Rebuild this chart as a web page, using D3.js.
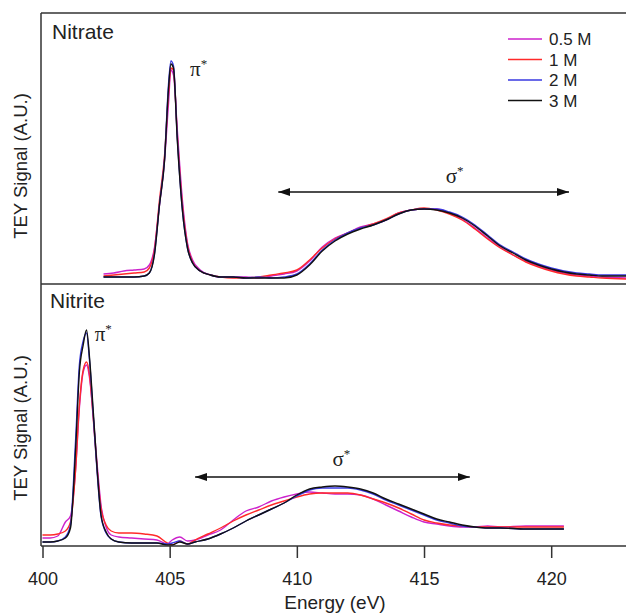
<!DOCTYPE html>
<html>
<head>
<meta charset="utf-8">
<script src="https://cdn.jsdelivr.net/npm/d3@7"></script>
<style>
  body { margin: 0; background: #fff; }
  svg text { font-family: "Liberation Sans", Arial, sans-serif; fill: #222; }
</style>
</head>
<body>
<div id="chart"></div>
<script>
// series labels / colours
let seriesNames = ["0.5 M", "1 M", "2 M", "3 M"];
let seriesColors = ["#cc22cc", "#ff2a2a", "#3838e0", "#111111"];

// Nitrate (top panel)
let nitrateEnergy = [402.4, 402.8, 403.2, 403.6, 404.0, 404.2, 404.4, 404.6, 404.8, 404.95,
  405.05, 405.15, 405.3, 405.5, 405.7, 405.9, 406.2, 406.6, 407, 407.5,
  408, 408.5, 409, 409.5, 410, 410.5, 411, 411.5, 412, 412.5,
  413, 413.5, 414, 414.5, 415, 415.5, 416, 416.5, 417, 417.5,
  418, 418.5, 419, 419.5, 420, 420.5, 421, 421.5, 422, 423];
let nitrate05 = [3, 3.5, 4.5, 5, 5.5, 7.5, 16, 37.5, 60, 87.5,
  105, 102.5, 75, 40, 18.5, 10, 5, 2.5, 1.5, 1.5,
  1.5, 1, 2, 3, 4.5, 9.5, 16.5, 21, 23.5, 26.5,
  28, 30, 33.5, 35, 35.5, 35.5, 33.5, 30.5, 26, 21,
  16.5, 12.5, 9.5, 7, 5, 3.5, 2.5, 2, 1.5, 1];
let nitrate1 = [2, 2.5, 3, 3.5, 4, 6, 15, 40, 62.5, 92.5,
  106, 105, 72.5, 37.5, 17.5, 9, 4.5, 2.5, 1.5, 1,
  1, 1.5, 2.5, 3.5, 5, 10, 16, 20.5, 23.5, 26,
  28, 30.5, 33.5, 35, 36, 35, 33, 30, 25.5, 20.5,
  16, 12.5, 9, 6.5, 4.5, 3, 2, 1.5, 1, 0.5];
let nitrate2 = [1.5, 1.5, 1.5, 1.5, 2, 3.5, 13, 38, 61, 97,
  109.5, 107, 71, 35, 16, 8.5, 4.5, 2.5, 1.5, 1.5,
  1, 1.5, 1, 1.5, 3, 8, 15, 20, 23.5, 26,
  27.5, 30, 33, 35, 35.5, 35.5, 34, 31.5, 27.5, 22.5,
  17.5, 14, 10.5, 8, 6, 4.5, 3.5, 3, 2.5, 2.5];
let nitrate3 = [1.5, 1.5, 1.5, 1.5, 2, 3.5, 12.5, 37.5, 60, 95,
  108, 106, 70, 35, 16, 8.5, 4.5, 2.5, 1.5, 1.5,
  1, 1, 1, 1, 2.5, 7.5, 14.5, 19.5, 23, 25.5,
  27.5, 30, 33, 35, 35.5, 35, 33.5, 31, 27, 22,
  17, 13.5, 10, 7.5, 5.5, 4, 3, 2.5, 2, 2];

// Nitrite (bottom panel)
let nitriteEnergy = [400, 400.3, 400.6, 400.9, 401.1, 401.3, 401.45, 401.6, 401.73, 401.85,
  402.0, 402.15, 402.3, 402.5, 402.7, 403, 403.5, 404, 404.5, 404.9,
  405.1, 405.4, 405.7, 406, 406.5, 407, 407.5, 408, 408.5, 409,
  409.5, 410, 410.5, 411, 411.5, 412, 412.5, 413, 413.5, 414,
  414.5, 415, 415.5, 416, 416.5, 417, 417.5, 418, 419, 420, 420.5];
let nitrite05 = [3.5, 3.5, 4.5, 11.5, 14.5, 37.5, 68.5, 86.5, 90, 83.5,
  63.5, 40, 20, 9, 5, 4, 3.5, 3, 2.5, 0.5,
  2.5, 4, 2, 2.5, 5, 7.5, 12.5, 17, 19, 22,
  24, 25.5, 26.5, 26, 25.5, 25.5, 25, 23, 20, 17,
  14, 11.5, 10.5, 9.5, 9, 9, 9.5, 9, 9.5, 9.5, 9.5];
let nitrite1 = [5, 5, 5.5, 7, 11.5, 37.5, 70, 87.5, 91.5, 85,
  62.5, 37.5, 18.5, 10, 7, 6, 6, 5.5, 4.5, 1,
  0, 2, 0.5, 2.5, 5.5, 8.5, 12, 15, 17.5, 20,
  22, 24, 25.5, 26, 26, 26, 25, 23, 21, 18.5,
  15.5, 12.5, 11, 10, 9.5, 9, 9, 9, 9, 9, 9];
let nitrite2 = [1.5, 1.5, 2, 4, 10, 52, 90, 102, 106, 92,
  64, 36, 14.5, 6, 3, 1.5, 1, 1, 1, 0.5,
  1, 2, 0.5, 1.5, 3, 5.5, 8.5, 12, 15, 18,
  21, 24.5, 27.5, 28.5, 28.5, 28.5, 27.5, 25.5, 22.5, 20,
  17.5, 15, 12.5, 11, 9.5, 9, 8.5, 8.5, 8, 8, 8];
let nitrite3 = [1.5, 1.5, 2, 3.5, 8.5, 47.5, 86.5, 100, 107.5, 93.5,
  66, 37.5, 15, 6.5, 3, 1.5, 1, 1, 1, 0,
  0, 1.5, 0.5, 1.5, 3, 5.5, 8.5, 12, 15, 18,
  21, 25, 28, 29, 29.5, 29, 28, 26, 23, 20.5,
  18, 15.5, 13, 11.5, 10, 9, 8.5, 8.5, 8, 8, 8];

let xTicks = [400, 405, 410, 415, 420];

let width = 626, height = 613;
let frameLeft = 41, frameTop = 13, frameMid = 284, frameBottom = 546;

let svg = d3.select("#chart").append("svg")
    .attr("width", width)
    .attr("height", height);

let x = d3.scaleLinear().domain([400, 423]).range([42.5, 627.5]);
let yTop = d3.scaleLinear().domain([0, 110]).range([280, 60]);
let yBot = d3.scaleLinear().domain([0, 110]).range([545, 325]);

let defs = svg.append("defs");
defs.append("marker")
    .attr("id", "head")
    .attr("viewBox", "0 0 12 8")
    .attr("refX", 12).attr("refY", 4)
    .attr("markerWidth", 12).attr("markerHeight", 8)
    .attr("markerUnits", "userSpaceOnUse")
    .attr("orient", "auto-start-reverse")
  .append("path")
    .attr("d", "M0,0 L12,4 L0,8 Z")
    .attr("fill", "#111");

function drawPanel(energy, series, y) {
  let line = d3.line()
      .x((d, i) => x(energy[i]))
      .y(d => y(d))
      .curve(d3.curveMonotoneX);
  series.forEach((vals, k) => {
    svg.append("path")
        .datum(vals)
        .attr("d", line)
        .attr("fill", "none")
        .attr("stroke", seriesColors[k])
        .attr("stroke-width", 1.4)
        .attr("stroke-linejoin", "round");
  });
}

drawPanel(nitrateEnergy, [nitrate05, nitrate1, nitrate2, nitrate3], yTop);
drawPanel(nitriteEnergy, [nitrite05, nitrite1, nitrite2, nitrite3], yBot);

// frame
let frame = svg.append("g").attr("stroke", "#333").attr("stroke-width", 1.5);
frame.append("line").attr("x1", frameLeft).attr("x2", width).attr("y1", frameTop).attr("y2", frameTop);
frame.append("line").attr("x1", frameLeft).attr("x2", frameLeft).attr("y1", frameTop).attr("y2", frameBottom);
frame.append("line").attr("x1", frameLeft).attr("x2", width).attr("y1", frameMid).attr("y2", frameMid);

// x axis
let xAxis = svg.append("g")
    .attr("transform", "translate(0," + frameBottom + ")")
    .call(d3.axisBottom(x).tickValues(xTicks).tickSize(12).tickPadding(14).tickSizeOuter(0));
xAxis.select(".domain").attr("stroke", "#333").attr("stroke-width", 1.5)
    .attr("d", "M" + frameLeft + ",0H" + width);
xAxis.selectAll(".tick line").attr("stroke", "#333").attr("stroke-width", 1.5);
xAxis.selectAll(".tick text").style("font-size", "18px")
    .style("font-family", "Liberation Sans, Arial, sans-serif").attr("fill", "#222");

svg.append("text")
    .attr("x", 335).attr("y", 609)
    .attr("text-anchor", "middle")
    .style("font-size", "19px")
    .text("Energy (eV)");

// y labels
[166, 428].forEach(cy => {
  svg.append("text")
      .attr("transform", "translate(27," + cy + ") rotate(-90)")
      .attr("text-anchor", "middle")
      .style("font-size", "18.5px")
      .text("TEY Signal (A.U.)");
});

// panel labels
svg.append("text").attr("x", 52).attr("y", 39).style("font-size", "21px").text("Nitrate");
svg.append("text").attr("x", 50).attr("y", 308).style("font-size", "21px").text("Nitrite");

// pi* and sigma* annotations
function starLabel(px, py, sym) {
  let t = svg.append("text")
      .attr("x", px).attr("y", py)
      .style("font-family", "Liberation Serif, Times New Roman, serif")
      .style("font-size", "21px");
  t.append("tspan").text(sym);
  t.append("tspan").attr("dy", -8).style("font-size", "13px").text("*");
}
starLabel(x(405.8), yTop(102), "π");
starLabel(x(402.05), yBot(102), "π");
starLabel(x(415.85), yTop(48.5), "σ");
starLabel(x(411.4), yBot(39.5), "σ");

function arrow(e1, e2, yy) {
  svg.append("line")
      .attr("x1", x(e1)).attr("x2", x(e2))
      .attr("y1", yy).attr("y2", yy)
      .attr("stroke", "#111").attr("stroke-width", 1.5)
      .attr("marker-start", "url(#head)")
      .attr("marker-end", "url(#head)");
}
arrow(409.27, 420.7, yTop(44));
arrow(406.0, 416.8, yBot(34));

// legend
let legend = svg.append("g");
seriesNames.forEach((name, i) => {
  let ly = 39 + i * 20.5;
  legend.append("line")
      .attr("x1", 508).attr("x2", 542)
      .attr("y1", ly).attr("y2", ly)
      .attr("stroke", seriesColors[i]).attr("stroke-width", 1.5);
  legend.append("text")
      .attr("x", 549).attr("y", ly + 6)
      .style("font-size", "17px")
      .text(name);
});
</script>
</body>
</html>
